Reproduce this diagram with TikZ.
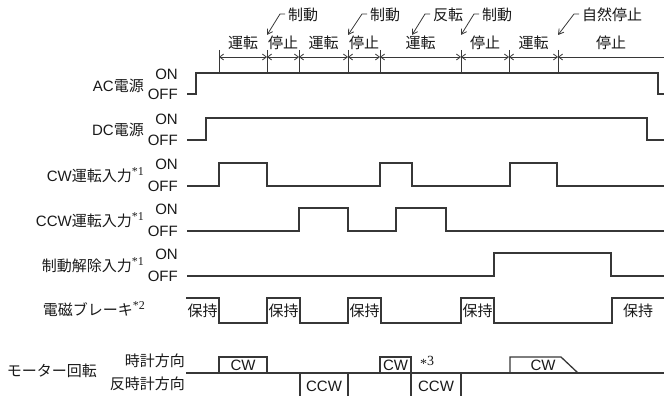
\documentclass[tikz,border=0pt]{standalone}
\usepackage{fontspec}
\setmainfont{Liberation Sans}
\newfontfamily\jp{Noto Sans CJK JP}
\newfontfamily\serifff{Liberation Serif}
\usetikzlibrary{arrows.meta}
\newcommand{\nt}[1]{\raisebox{0.40em}{\serifff\fontsize{12}{12}\selectfont *#1}}
\definecolor{lc}{RGB}{55,55,55}
\definecolor{tc}{RGB}{25,25,25}
\begin{document}
\begin{tikzpicture}[x=1pt,y=-1pt,
  wave/.style={line width=1.3pt, draw=lc, line join=miter},
  lbl/.style={font=\fontsize{15}{17}\selectfont, inner sep=0pt, text=tc},
  jl/.style={font=\jp\fontsize{15}{17}\selectfont, inner sep=0pt, text=tc},
  tickln/.style={line width=0.9pt, draw=lc},
  dimln/.style={line width=0.8pt, draw=lc, {Straight Barb[length=4pt,width=6pt]}-{Straight Barb[length=4pt,width=6pt]}},
  dimlft/.style={line width=0.8pt, draw=lc, {Straight Barb[length=4pt,width=6pt]}-},
  lead/.style={line width=0.8pt, draw=lc, -{Straight Barb[length=5pt,width=6pt]}}
]
\useasboundingbox (0,0) rectangle (664,396);

% ---- top time ruler ----
\foreach \n/\x in {1/219,2/267,3/299,4/348,5/380,6/461,7/509,8/558}{
  \coordinate (tt\n) at (\x,50);
  \coordinate (tb\n) at (\x,73);
  \coordinate (ta\n) at (\x,57);
  \draw[tickln] (tt\n) -- (tb\n);
}
\coordinate (taend) at (664,57);
\foreach \a/\b in {1/2,2/3,3/4,4/5,5/6,6/7,7/8}{
  \draw[dimln] (ta\a) -- (ta\b);
}
\draw[dimlft] (ta8) -- (taend);

% phase labels
\node[jl] (p1) at (243,43) {運転};
\node[jl] (p2) at (283,43) {停止};
\node[jl] (p3) at (323.5,43) {運転};
\node[jl] (p4) at (364,43) {停止};
\node[jl] (p5) at (420.5,43) {運転};
\node[jl] (p6) at (485,43) {停止};
\node[jl] (p7) at (533.5,43) {運転};
\node[jl] (p8) at (611,43) {停止};

% event labels with leaders
\node[jl,anchor=west] (e1) at (288,15) {制動};
\node[jl,anchor=west] (e2) at (370,15) {制動};
\node[jl,anchor=west] (e3) at (433,15) {反転};
\node[jl,anchor=west] (e4) at (482,15) {制動};
\node[jl,anchor=west] (e5) at (582,15) {自然停止};
\coordinate (a1) at (267,35);
\coordinate (a2) at (348,35);
\coordinate (a3) at (412,35);
\coordinate (a4) at (461,35);
\coordinate (a5) at (558,35);
\foreach \i in {1,...,5}{
  \draw[lead] ([xshift=-3pt,yshift=1pt]e\i.west) -- ++(-5,0) -- (a\i);
}

% ---- row labels ----
\foreach \n/\on/\off in {ac/73/94, dc/118/140, cw/163/186, ccw/208/231, rel/253/276}{
  \node[lbl,anchor=east] (on\n) at (178,\on+1.5) {ON};
  \node[lbl,anchor=east] (off\n) at (178,\off) {OFF};
}
\node[lbl,anchor=east] (nac) at (144,85.5) {AC{\jp 電源}};
\node[lbl,anchor=east] (ndc) at (144,130) {DC{\jp 電源}};
\node[lbl,anchor=east] (ncw) at (144,175) {CW{\jp 運転入力}\nt{1}};
\node[lbl,anchor=east] (nccw) at (144,220) {CCW{\jp 運転入力}\nt{1}};
\node[lbl,anchor=east] (nrel) at (144,265) {{\jp 制動解除入力}\nt{1}};
\node[lbl,anchor=east] (nbrk) at (145,309) {{\jp 電磁ブレーキ}\nt{2}};
\node[jl,anchor=east] (nmot) at (97,371) {モーター回転};
\node[jl,anchor=east] (ncwdir) at (185,361) {時計方向};
\node[jl,anchor=east] (nccwdir) at (185,384) {反時計方向};

% ---- waveforms ----
\draw[wave] (187,94) -- (196,94) -- (196,73) -- (658,73) -- (658,94) -- (664,94);
\draw[wave] (187,140) -- (206,140) -- (206,118) -- (647,118) -- (647,140) -- (664,140);
\draw[wave] (187,186) -- (219,186) -- (219,163) -- (267,163) -- (267,186) -- (380,186)
  -- (380,163) -- (412,163) -- (412,186) -- (510,186) -- (510,163) -- (557,163)
  -- (557,186) -- (664,186);
\draw[wave] (187,231) -- (299,231) -- (299,208) -- (348,208) -- (348,231) -- (396,231)
  -- (396,208) -- (446,208) -- (446,231) -- (664,231);
\draw[wave] (187,276) -- (494,276) -- (494,253) -- (611,253) -- (611,276) -- (664,276);

% brake
\draw[wave] (186,298) -- (219,298) -- (219,323) -- (267,323) -- (267,298) -- (300,298)
  -- (300,323) -- (348,323) -- (348,298) -- (381,298) -- (381,323) -- (461,323)
  -- (461,298) -- (494,298) -- (494,323) -- (612,323) -- (612,298) -- (664,298);
\node[jl] (h1) at (202.5,311) {保持};
\node[jl] (h2) at (283.5,311) {保持};
\node[jl] (h3) at (364.5,311) {保持};
\node[jl] (h4) at (477.5,311) {保持};
\node[jl] (h5) at (638,311) {保持};

% motor rotation
\draw[wave] (186,373) -- (664,373);
\draw[wave] (219,373) -- (219,357) -- (267,357) -- (267,373);
\draw[wave] (380,373) -- (380,357) -- (411,357) -- (411,396);
\draw[wave] (510,373) -- (510,357) -- (561,357) -- (578,373);
\draw[wave] (300,373) -- (300,396);
\draw[wave] (348,373) -- (348,396);
\draw[wave] (461,373) -- (461,396);
\node[lbl] (m1) at (243,365) {CW};
\node[lbl] (m2) at (395.5,365) {CW};
\node[lbl] (m3) at (543,365) {CW};
\node[lbl] (m4) at (324,386) {CCW};
\node[lbl] (m5) at (436,386) {CCW};
\node[inner sep=0pt, font=\serifff\fontsize{14}{14}\selectfont, text=tc] (s3) at (427,362) {\raisebox{-0.22em}{*}3};
\end{tikzpicture}
\end{document}
